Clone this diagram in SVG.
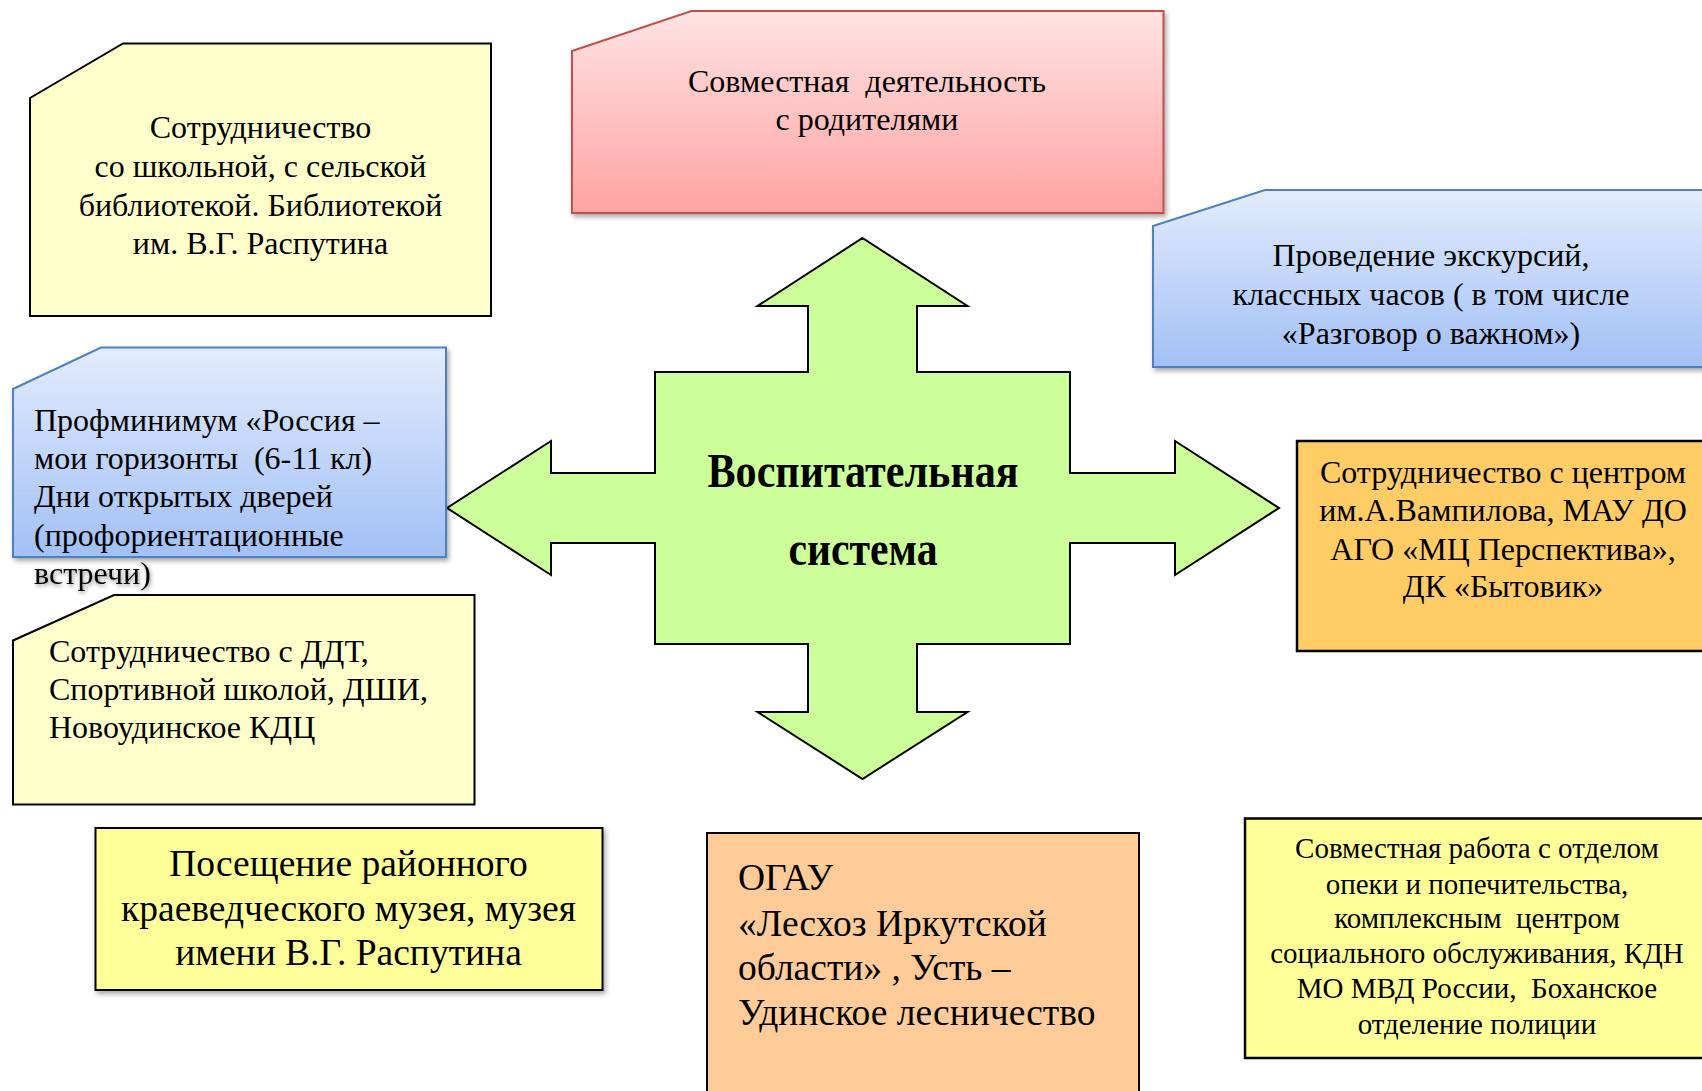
<svg xmlns="http://www.w3.org/2000/svg" width="1702" height="1091" viewBox="0 0 1702 1091" xml:space="preserve">
<style>
.t{font-family:"Liberation Serif","Times New Roman",serif;font-size:32px;fill:#000;white-space:pre}
.c{text-anchor:middle}
.big{font-size:37.5px}
.sm{font-size:29px}
.ctr{font-family:"Liberation Serif","Times New Roman",serif;font-weight:bold;font-size:48px;text-anchor:middle;fill:#000}
</style>
<defs>
<filter id="sh" x="-10%" y="-10%" width="125%" height="130%">
<feDropShadow dx="2" dy="3" stdDeviation="2.5" flood-color="#000" flood-opacity="0.35"/>
</filter>
<filter id="tsh" x="-10%" y="-30%" width="125%" height="170%">
<feDropShadow dx="1" dy="2" stdDeviation="2" flood-color="#000" flood-opacity="0.45"/>
</filter>
<linearGradient id="gRed" x1="0" y1="0" x2="0" y2="1">
<stop offset="0" stop-color="#FFE3E3"/>
<stop offset="1" stop-color="#FFA3A2"/>
</linearGradient>
<linearGradient id="gBlue" x1="0" y1="0" x2="0" y2="1">
<stop offset="0" stop-color="#E2ECFD"/>
<stop offset="1" stop-color="#A2C0F5"/>
</linearGradient>
</defs>
<rect width="1702" height="1091" fill="#fff"/>

<g id="connectors">
<polygon id="cross-arrow" points="862.5,238 967.5,306 917,306 917,372 1070,372 1070,473 1175,473 1175,441 1279,508 1175,575 1175,543 1070,543 1070,644 917,644 917,712 967.5,712 862.5,779 757.5,712 808,712 808,644 655,644 655,543 551,543 551,575 447,508 551,441 551,473 655,473 655,372 808,372 808,306 757.5,306" fill="#CCFF99" stroke="#000" stroke-width="2"/>
</g>

<g id="center">
<text class="ctr" x="863" y="487" textLength="311" lengthAdjust="spacingAndGlyphs">Воспитательная</text>
<text class="ctr" x="863" y="565" textLength="149" lengthAdjust="spacingAndGlyphs">система</text>
</g>

<g id="node-library">
<path d="M30,98 L123,43.5 L491,43.5 L491,316 L30,316 Z" fill="#FFFFCC" stroke="#000" stroke-width="2"/>
<text class="t c" x="260.5" y="138">Сотрудничество</text>
<text class="t c" x="260.5" y="177">со школьной, с сельской</text>
<text class="t c" x="260.5" y="215.5">библиотекой. Библиотекой</text>
<text class="t c" x="260.5" y="254">им. В.Г. Распутина</text>
</g>

<g id="node-parents">
<path d="M572,51 L691.5,11 L1163.5,11 L1163.5,213 L572,213 Z" fill="url(#gRed)" stroke="#C0504D" stroke-width="2" filter="url(#sh)"/>
<text class="t c" x="867" y="92">Совместная  деятельность</text>
<text class="t c" x="867" y="130">с родителями</text>
</g>

<g id="node-excursions">
<path d="M1153,226 L1265,190 L1712,190 L1712,367 L1153,367 Z" fill="url(#gBlue)" stroke="#4F81BD" stroke-width="2" filter="url(#sh)"/>
<text class="t c" x="1431" y="266">Проведение экскурсий,</text>
<text class="t c" x="1431" y="305">классных часов ( в том числе</text>
<text class="t c" x="1431" y="344">«Разговор о важном»)</text>
</g>

<g id="node-profminimum">
<path d="M13,389 L101,347.5 L446,347.5 L446,557 L13,557 Z" fill="url(#gBlue)" stroke="#4F81BD" stroke-width="2" filter="url(#sh)"/>
<text class="t" x="34" y="431">Профминимум «Россия –</text>
<text class="t" x="34" y="469">мои горизонты  (6-11 кл)</text>
<text class="t" x="34" y="507">Дни открытых дверей</text>
<text class="t" x="34" y="546">(профориентационные</text>
<text class="t" x="34" y="584" filter="url(#tsh)">встречи)</text>
</g>

<g id="node-ddt">
<path d="M13,640.5 L114,595 L474.5,595 L474.5,804.5 L13,804.5 Z" fill="#FFFFCC" stroke="#000" stroke-width="2"/>
<text class="t" x="49" y="662">Сотрудничество с ДДТ,</text>
<text class="t" x="49" y="700">Спортивной школой, ДШИ,</text>
<text class="t" x="49" y="738">Новоудинское КДЦ</text>
</g>

<g id="node-vampilov">
<rect x="1297" y="441" width="420" height="210" fill="#FFCC66" stroke="#000" stroke-width="2.5"/>
<text class="t c" x="1503" y="483">Сотрудничество с центром</text>
<text class="t c" x="1503" y="521">им.А.Вампилова, МАУ ДО</text>
<text class="t c" x="1503" y="560">АГО «МЦ Перспектива»,</text>
<text class="t c" x="1503" y="597">ДК «Бытовик»</text>
</g>

<g id="node-museum">
<rect x="95.5" y="828" width="507" height="162" fill="#FFFF99" stroke="#000" stroke-width="2" filter="url(#sh)"/>
<text class="t c big" x="348.5" y="875.5">Посещение районного</text>
<text class="t c big" x="348.5" y="920.5">краеведческого музея, музея</text>
<text class="t c big" x="348.5" y="964.5">имени В.Г. Распутина</text>
</g>

<g id="node-leskhoz">
<rect x="707" y="833" width="432" height="270" fill="#FFCC99" stroke="#000" stroke-width="2"/>
<text class="t big" x="738" y="890">ОГАУ</text>
<text class="t big" x="738" y="936">«Лесхоз Иркутской</text>
<text class="t big" x="738" y="980">области» , Усть –</text>
<text class="t big" x="738" y="1025">Удинское лесничество</text>
</g>

<g id="node-police">
<rect x="1245" y="818.5" width="470" height="239.5" fill="#FFFF99" stroke="#000" stroke-width="2.5"/>
<text class="t c sm" x="1477" y="858">Совместная работа с отделом</text>
<text class="t c sm" x="1477" y="894">опеки и попечительства,</text>
<text class="t c sm" x="1477" y="928">комплексным  центром</text>
<text class="t c sm" x="1477" y="963">социального обслуживания, КДН</text>
<text class="t c sm" x="1477" y="998">МО МВД России,  Боханское</text>
<text class="t c sm" x="1477" y="1034">отделение полиции</text>
</g>
</svg>
